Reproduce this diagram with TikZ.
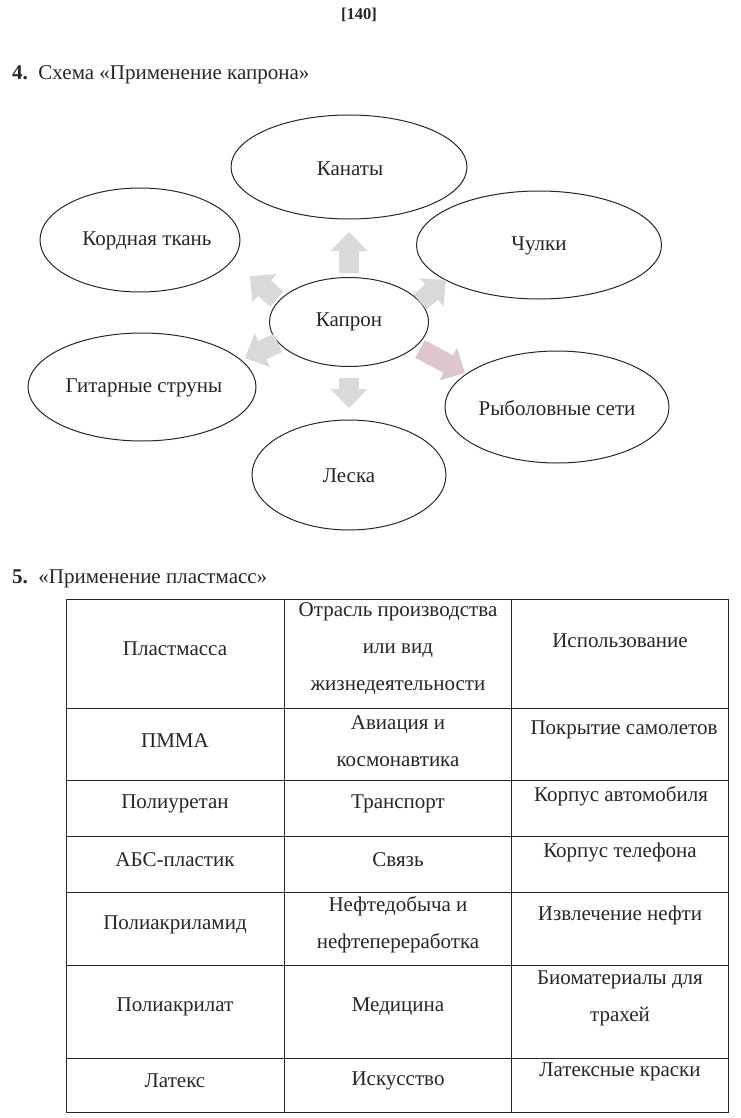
\documentclass[tikz,border=0pt]{standalone}
\usepackage{fontspec}
\setmainfont{Liberation Serif}
\usetikzlibrary{shapes.geometric,arrows.meta}
\definecolor{ink}{rgb}{0.15,0.15,0.15}
\definecolor{arrgray}{rgb}{0.85,0.85,0.85}
\definecolor{arrpink}{rgb}{0.87,0.78,0.80}
\begin{document}
\begin{tikzpicture}[x=1pt,y=-1pt,
  every node/.style={text=ink, font=\fontsize{21}{37}\selectfont, inner sep=0pt},
  oval/.style={ellipse, draw=ink, line width=1pt, inner sep=0pt},
  blockarr/.style={line width=20pt, draw=arrgray, -{Triangle[width=36pt,length=19pt]}},
  pinkarr/.style={blockarr, draw=arrpink},
  cell/.style={align=center},
  grid/.style={draw=ink, line width=0.9pt}
]
\useasboundingbox (0,0) rectangle (740,1118);

% headings
\node[font=\fontsize{16.5}{20}\selectfont\bfseries] (page) at (359,15) {[140]};
\node[anchor=west] (h4) at (12,75) {\textbf{4.}\ \ Схема «Применение капрона»};
\node[anchor=west] (h5) at (12,579) {\textbf{5.}\ \ «Применение пластмасс»};

% ellipses
\node[oval, minimum width=236pt, minimum height=104pt] (kanaty) at (349,167) {};
\node[oval, minimum width=200pt, minimum height=104pt] (kord) at (140,240) {};
\node[oval, minimum width=245pt, minimum height=108pt] (chulki) at (539,245) {};
\node[oval, minimum width=159pt, minimum height=89pt] (kapron) at (349,322) {};
\node[oval, minimum width=228pt, minimum height=108pt] (gitar) at (142,387) {};
\node[oval, minimum width=224pt, minimum height=112pt] (seti) at (557,407) {};
\node[oval, minimum width=194pt, minimum height=110pt] (leska) at (349,475) {};
\node (kanaty-t) at (350,169) {Канаты};
\node (kord-t) at (147,241) {Кордная ткань};
\node (chulki-t) at (539,246) {Чулки};
\node (kapron-t) at (349,322) {Капрон};
\node (gitar-t) at (144,388) {Гитарные струны};
\node (seti-t) at (557,408) {Рыболовные сети};
\node (leska-t) at (349,476) {Леска};

% block arrows
\coordinate (a1s) at (349,273); \coordinate (a1e) at (349,232);
\coordinate (a2s) at (277,299); \coordinate (a2e) at (250,276);
\coordinate (a3s) at (420,302); \coordinate (a3e) at (446,280);
\coordinate (a4s) at (278,343); \coordinate (a4e) at (245,358);
\coordinate (a5s) at (420,349); \coordinate (a5e) at (465,373);
\coordinate (a6s) at (349,378); \coordinate (a6e) at (349,408);
\draw[blockarr] (a1s) -- (a1e);
\draw[blockarr] (a2s) -- (a2e);
\draw[blockarr] (a3s) -- (a3e);
\draw[blockarr] (a4s) -- (a4e);
\draw[pinkarr] (a5s) -- (a5e);
\draw[blockarr] (a6s) -- (a6e);

% table grid
\draw[grid] (66,599) rectangle (728,1112);
\foreach \yy in {708,780,836,892,965,1058} \draw[grid] (66,\yy) -- (728,\yy);
\foreach \xx in {284,511} \draw[grid] (\xx,599) -- (\xx,1112);

% row 1
\node[cell] (c11) at (175,649) {Пластмасса};
\node[cell] (c12) at (398,649) {Отрасль производства\\или вид\\жизнедеятельности};
\node[cell] (c13) at (620,641) {Использование};
% row 2
\node[cell] (c21) at (175,741) {ПММА};
\node[cell] (c22) at (398,741) {Авиация и\\космонавтика};
\node[cell] (c23) at (624,730) {Покрытие самолетов};
% row 3
\node[cell] (c31) at (175,804) {Полиуретан};
\node[cell] (c32) at (398,804) {Транспорт};
\node[cell] (c33) at (621,796) {Корпус автомобиля};
% row 4
\node[cell] (c41) at (175,860) {АБС-пластик};
\node[cell] (c42) at (398,860) {Связь};
\node[cell] (c43) at (620,852) {Корпус телефона};
% row 5
\node[cell] (c51) at (175,925) {Полиакриламид};
\node[cell] (c52) at (398,925) {Нефтедобыча и\\нефтепереработка};
\node[cell] (c53) at (620,915) {Извлечение нефти};
% row 6
\node[cell] (c61) at (175,1007) {Полиакрилат};
\node[cell] (c62) at (398,1007) {Медицина};
\node[cell] (c63) at (620,998) {Биоматериалы для\\трахей};
% row 7
\node[cell] (c71) at (175,1081) {Латекс};
\node[cell] (c72) at (398,1081) {Искусство};
\node[cell] (c73) at (620,1072) {Латексные краски};
\end{tikzpicture}
\end{document}
